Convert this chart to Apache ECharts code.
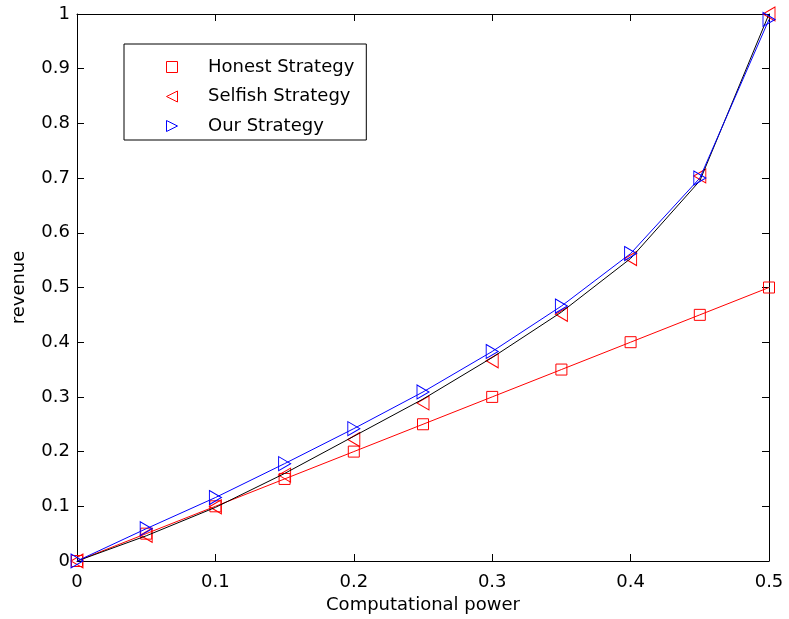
<!DOCTYPE html>
<html>
<head>
<meta charset="utf-8">
<script src="https://cdn.jsdelivr.net/npm/echarts@6/dist/echarts.min.js"></script>
<style>html,body{margin:0;padding:0;background:#fff}#c{width:789px;height:619px}</style>
</head>
<body>
<div id="c"></div>
<script>
const power = [0, 0.05, 0.1, 0.15, 0.2, 0.25, 0.3, 0.35, 0.4, 0.45, 0.5];
const honest = [0, 0.05, 0.1, 0.15, 0.2, 0.25, 0.3, 0.35, 0.4, 0.45, 0.5];
const selfish = [0, 0.047, 0.099, 0.157, 0.222, 0.289, 0.366, 0.451, 0.553, 0.704, 1.0];
const selfishCurve = [0, 0.046, 0.098, 0.16, 0.228, 0.296, 0.372, 0.455, 0.553, 0.695, 1.0];
const ours = [0, 0.059, 0.116, 0.178, 0.242, 0.309, 0.383, 0.466, 0.562, 0.700, 0.99];
const xTicks = [0, 0.1, 0.2, 0.3, 0.4, 0.5];
const yTicks = [0, 0.1, 0.2, 0.3, 0.4, 0.5, 0.6, 0.7, 0.8, 0.9, 1];

const pairs = (ys) => power.map((x, i) => [x, ys[i]]);
const FONT = '"DejaVu Sans", "Liberation Sans", Arial, sans-serif';
const FS = 18;
const SQ = 'path://M0,0 L1,0 L1,1 L0,1 Z';
const LT = 'path://M1,0 L0,0.5 L1,1 Z';
const RT = 'path://M0,0 L1,0.5 L0,1 Z';

const chart = echarts.init(document.getElementById('c'), null, {renderer: 'canvas'});
const hollow = (c) => ({color: 'rgba(0,0,0,0)', borderColor: c, borderWidth: 1});
const tickStyle = {show: true, inside: true, length: 7, lineStyle: {color: '#000', width: 1}};
const lineAx = {show: true, onZero: false, lineStyle: {color: '#000', width: 1}};

chart.setOption({
  animation: false,
  backgroundColor: '#fff',
  grid: {left: 77, right: 20, top: 14, bottom: 58, containLabel: false},
  legend: {
    left: 124, top: 44, orient: 'vertical',
    borderColor: '#000', borderWidth: 1, backgroundColor: '#fff',
    padding: [14, 12, 5, 42],
    itemWidth: 62, itemHeight: 11, itemGap: 11.5,
    textStyle: {fontFamily: FONT, fontSize: FS, color: '#000'},
    data: [
      {name: 'Honest Strategy', icon: SQ, itemStyle: hollow('#ff0000')},
      {name: 'Selfish Strategy', icon: LT, itemStyle: hollow('#ff0000')},
      {name: 'Our Strategy', icon: RT, itemStyle: hollow('#0000ff')}
    ]
  },
  xAxis: [{
    type: 'value', min: 0, max: 0.5, interval: 0.1,
    name: 'Computational power', nameLocation: 'middle', nameGap: 35,
    nameTextStyle: {fontFamily: FONT, fontSize: FS, color: '#000'},
    axisLine: lineAx, axisTick: tickStyle, splitLine: {show: false},
    axisLabel: {fontFamily: FONT, fontSize: FS, color: '#000', margin: 12,
      formatter: (v) => xTicks.includes(+v.toFixed(2)) ? String(+v.toFixed(2)) : ''}
  }, {
    type: 'value', min: 0, max: 0.5, interval: 0.1, position: 'top',
    axisLine: lineAx, axisTick: tickStyle, axisLabel: {show: false}, splitLine: {show: false}
  }],
  yAxis: [{
    type: 'value', min: 0, max: 1, interval: 0.1,
    name: 'revenue', nameLocation: 'middle', nameGap: 49, nameRotate: 90,
    nameTextStyle: {fontFamily: FONT, fontSize: FS, color: '#000'},
    axisLine: lineAx, axisTick: tickStyle, splitLine: {show: false},
    axisLabel: {fontFamily: FONT, fontSize: FS, color: '#000', margin: 7,
      formatter: (v) => yTicks.includes(+v.toFixed(2)) ? String(+v.toFixed(2)) : ''}
  }, {
    type: 'value', min: 0, max: 1, interval: 0.1, position: 'right',
    axisLine: lineAx, axisTick: tickStyle, axisLabel: {show: false}, splitLine: {show: false}
  }],
  series: [
    {
      name: 'Honest Strategy', type: 'line', data: pairs(honest),
      symbol: SQ, symbolSize: 11, showAllSymbol: true,
      lineStyle: {color: '#ff0000', width: 1}, itemStyle: hollow('#ff0000'), z: 2
    },
    {
      name: 'Selfish Strategy', type: 'line', data: pairs(selfish),
      symbol: LT, symbolSize: [12, 14], showAllSymbol: true,
      lineStyle: {color: '#ff0000', width: 0, opacity: 0}, itemStyle: hollow('#ff0000'), z: 3
    },
    {
      name: 'Selfish curve', type: 'line', data: pairs(selfishCurve),
      symbol: 'none', lineStyle: {color: '#000000', width: 1}, z: 4
    },
    {
      name: 'Our Strategy', type: 'line', data: pairs(ours),
      symbol: RT, symbolSize: [12, 14], showAllSymbol: true,
      lineStyle: {color: '#0000ff', width: 1}, itemStyle: hollow('#0000ff'), z: 5
    }
  ]
});
</script>
</body>
</html>
